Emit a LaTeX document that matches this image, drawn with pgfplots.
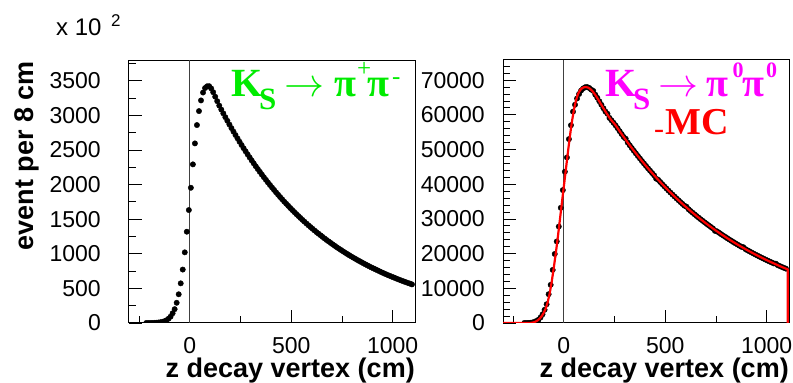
\documentclass[border=0pt]{standalone}
\usepackage{fontspec}
\setmainfont{Liberation Sans}
\newfontfamily\tms{Liberation Serif}
\usepackage{graphicx}
\usepackage{pgfplots}
\pgfplotsset{compat=1.18}
\usepackage{pgfplotstable}

\definecolor{ksgreen}{RGB}{0,235,0}
\definecolor{ksmag}{RGB}{255,0,255}
\definecolor{mcred}{RGB}{255,0,0}

% K_S -> pi+ pi- : events per bin (in units of 10^2)
\pgfplotstableread{
z y
-215 0
-205 0
-195 0
-185 1
-175 2
-165 4
-155 7
-145 11
-135 17
-125 26
-115 40
-105 62
-95 92
-85 140
-75 200
-65 292
-55 415
-45 573
-35 772
-25 1021
-15 1319
-5 1632
5 1954
15 2292
25 2595
35 2860
45 3062
55 3216
65 3330
75 3395
85 3420
95 3422
105 3390
115 3335
125 3270
135 3205
145 3141
155 3084
165 3029
175 2974
185 2921
195 2868
205 2816
215 2766
225 2716
235 2667
245 2619
255 2572
265 2525
275 2480
285 2435
295 2391
305 2348
315 2306
325 2264
335 2224
345 2184
355 2144
365 2106
375 2068
385 2030
395 1994
405 1958
415 1923
425 1888
435 1854
445 1820
455 1788
465 1755
475 1724
485 1693
495 1662
505 1632
515 1603
525 1574
535 1546
545 1518
555 1490
565 1464
575 1437
585 1411
595 1386
605 1361
615 1336
625 1312
635 1289
645 1266
655 1243
665 1220
675 1198
685 1177
695 1156
705 1135
715 1114
725 1094
735 1074
745 1055
755 1036
765 1017
775 999
785 981
795 963
805 946
815 929
825 912
835 896
845 880
855 864
865 848
875 833
885 818
895 803
905 789
915 775
925 761
935 747
945 733
955 720
965 707
975 694
985 682
995 670
1005 658
1015 646
1025 634
1035 623
1045 611
1055 600
1065 590
1075 579
1085 569
1095 558
}\pipmdata

% K_S -> pi0 pi0 : data
\pgfplotstableread{
z y
-195 0
-185 0
-175 20
-165 60
-155 150
-145 330
-135 600
-125 950
-115 1600
-105 2500
-95 3800
-85 5400
-75 8300
-65 11000
-55 15300
-45 19900
-35 23500
-25 27800
-15 33200
-5 38300
5 43600
15 47700
25 53000
35 57000
45 60900
55 62900
65 64700
75 66000
85 67000
95 67600
105 67950
115 68000
125 67750
135 67250
145 66900
155 65800
165 64900
175 63900
185 62900
195 61900
205 60950
215 60300
225 59100
235 58400
245 57700
255 56950
265 56146
275 55289
285 54445
295 53613
305 53100
315 51988
325 51195
335 50414
345 49643
355 48885
365 48139
375 47404
385 46681
395 45967
405 45266
415 44575
425 43894
435 43224
445 42564
455 41600
465 41275
475 40645
485 40024
495 39413
505 38811
515 38219
525 37635
535 37061
545 36494
555 35937
565 35388
575 34848
585 34316
595 33792
605 33500
615 32768
625 32268
635 31775
645 31290
655 30812
665 30342
675 29879
685 29423
695 28973
705 28531
715 28096
725 27666
735 27244
745 26550
755 26418
765 26015
775 25618
785 25227
795 24842
805 24463
815 24089
825 23721
835 23359
845 23002
855 22651
865 22305
875 21965
885 21850
895 21299
905 20974
915 20654
925 20338
935 20028
945 19722
955 19421
965 19124
975 18832
985 18545
995 18262
1005 17983
1015 17708
1025 17438
1035 17172
1045 17100
1055 16652
1065 16398
1075 16148
1085 15901
1095 15658
}\pizzdata

% K_S -> pi0 pi0 : simulation
\pgfplotstableread{
z y
-300 0
-170 0
-160 60
-150 170
-140 380
-130 720
-120 1200
-110 1900
-100 2850
-90 4100
-80 5900
-70 8500
-60 11800
-50 15800
-40 20000
-30 24600
-20 29500
-10 34500
0 39400
10 44300
20 49200
30 53900
40 58100
50 61600
60 64200
70 66000
80 67100
90 67700
100 67950
110 68000
120 67850
130 67450
140 66900
150 66150
160 65300
170 64350
180 63350
190 62400
200 61450
210 60500
220 59600
230 58750
240 58050
255 57016
275 55289
295 53613
315 51988
335 50414
355 48885
375 47404
395 45967
415 44575
435 43224
455 41914
475 40645
495 39413
515 38219
535 37061
555 35937
575 34848
595 33792
615 32768
635 31775
655 30812
675 29879
695 28973
715 28096
735 27244
755 26418
775 25618
795 24842
815 24089
835 23359
855 22651
875 21965
895 21299
915 20654
935 20028
955 19421
975 18832
995 18262
1015 17708
1035 17172
1055 16652
1075 16148
1095 15658
1104 15450
1104 0
}\pizzmc

\pgfplotsset{
  decaypanel/.style={
    scale only axis, width=286pt, height=263pt,
    xmin=-300, xmax=1110, ymin=0,
    clip marker paths=true,
    axis line style={line width=1pt},
    tick align=inside, tick pos=left,
    major tick length=13pt, minor tick length=7pt,
    every tick/.style={black, line width=0.8pt},
    xtick={0,500,1000}, minor xtick={-250,250,750},
    tick label style={font=\fontsize{23}{23}\selectfont, inner sep=0pt},
    xticklabel style={anchor=north},
    yticklabel style={anchor=east},
    xticklabel shift=14pt,
    scaled ticks=false,
    /pgf/number format/1000 sep={},
    /pgf/number format/assume math mode=true,
  },
  dots/.style={only marks, mark=*, mark size=2.7pt, black,
    mark options={draw=black, fill=black}},
  zeroline/.style={black!75, line width=0.8pt, forget plot},
}

\begin{document}
\begin{tikzpicture}[x=1pt, y=1pt]

% left panel: charged mode
\begin{axis}[decaypanel, at={(129pt,60pt)}, anchor=south west,
    ymax=3800,
    ytick={0,500,...,3500}, minor ytick={250,750,...,3750},
    yticklabel shift=28pt]
  \addplot[zeroline] coordinates {(0,0) (0,3800)};
  \addplot[dots] table[x=z, y=y] {\pipmdata};
\end{axis}

% right panel: neutral mode with simulation
\begin{axis}[decaypanel, at={(503pt,60pt)}, anchor=south west,
    ymax=75800,
    ytick={0,10000,...,70000}, minor ytick={0,2000,...,74000},
    yticklabel shift=18pt]
  \addplot[zeroline] coordinates {(0,0) (0,75800)};
  \addplot[dots] table[x=z, y=y] {\pizzdata};
  \addplot[mcred, line width=2.2pt, line join=round] table[x=z, y=y] {\pizzmc};
\end{axis}

% scale factor of the left axis
\node[anchor=base west, inner sep=0pt, font=\fontsize{24}{24}\selectfont] at (56,347) {x 10};
\node[anchor=base west, inner sep=0pt, font=\fontsize{17}{17}\selectfont] at (111,356.3) {2};

% axis titles
\node[anchor=base east, rotate=90, inner sep=0pt, font=\bfseries\fontsize{27}{27}\selectfont] at (33,322) {event per 8 cm};
\node[anchor=base east, inner sep=0pt, font=\bfseries\fontsize{27}{27}\selectfont] at (415,5) {z decay vertex (cm)};
\node[anchor=base east, inner sep=0pt, font=\bfseries\fontsize{27}{27}\selectfont] at (789,5) {z decay vertex (cm)};

% decay labels, charged mode
\begin{scope}[every node/.style={anchor=base west, inner sep=0pt, text=ksgreen}]
  \node[font=\tms\bfseries\fontsize{40}{40}\selectfont] at (231,286.3) {K};
  \node[font=\tms\bfseries\fontsize{31}{31}\selectfont] at (259,273) {S};
  \node[font=\fontsize{10}{12}\selectfont] at (284.5,286.3) {\scalebox{4}{$\rightarrow$}};
  \node[font=\tms\bfseries\fontsize{40}{40}\selectfont] at (334,286.3) {π};
  \node[font=\tms\fontsize{25}{25}\selectfont] at (357,306) {+};
  \node[font=\tms\bfseries\fontsize{40}{40}\selectfont] at (367,286.3) {π};
  \node[font=\tms\fontsize{25}{25}\selectfont] at (392,298) {-};
\end{scope}

% decay labels, neutral mode
\begin{scope}[every node/.style={anchor=base west, inner sep=0pt, text=ksmag}]
  \node[font=\tms\bfseries\fontsize{40}{40}\selectfont] at (605,286.3) {K};
  \node[font=\tms\bfseries\fontsize{31}{31}\selectfont] at (633,273) {S};
  \node[font=\fontsize{10}{12}\selectfont] at (658,286.3) {\scalebox{4}{$\rightarrow$}};
  \node[font=\tms\bfseries\fontsize{40}{40}\selectfont] at (706,286.3) {π};
  \node[font=\tms\bfseries\fontsize{22}{22}\selectfont] at (732.5,305) {0};
  \node[font=\tms\bfseries\fontsize{40}{40}\selectfont] at (742,286.3) {π};
  \node[font=\tms\bfseries\fontsize{22}{22}\selectfont] at (766,305) {0};
  \node[font=\tms\fontsize{30}{30}\selectfont, text=mcred] at (654,244.7) {-};
  \node[font=\tms\bfseries\fontsize{38}{38}\selectfont, text=mcred] at (665,248) {MC};
\end{scope}

\pgfresetboundingbox
\path (0,0) rectangle (793,383);
\end{tikzpicture}
\end{document}
